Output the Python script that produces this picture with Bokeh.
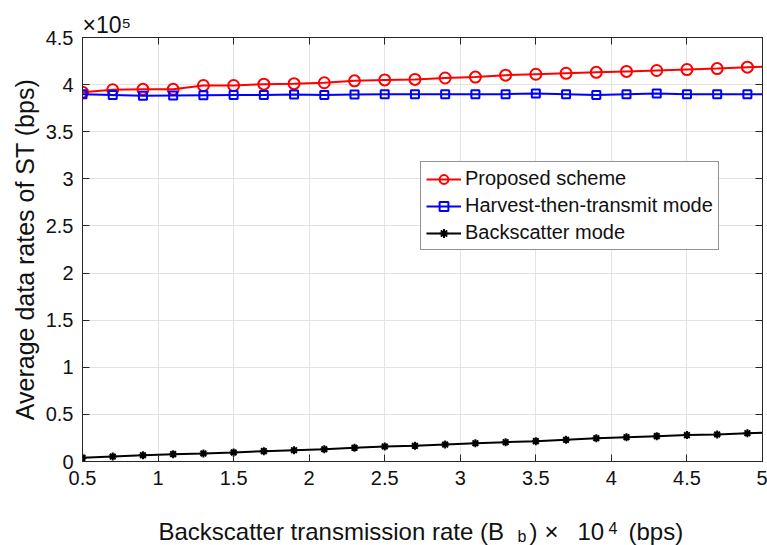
from bokeh.plotting import figure
from bokeh.layouts import column
from bokeh.models import (Range1d, FixedTicker, CustomJSTickFormatter, LinearAxis,
                          Legend, LegendItem)
from bokeh.core.properties import value
from bokeh.embed import file_html
from bokeh.resources import INLINE

# ---- data (y values in units of 10^5 bps, x in units of 10^4 bps) ----
rate = [0.5, 0.7, 0.9, 1.1, 1.3, 1.5, 1.7, 1.9, 2.1, 2.3, 2.5, 2.7,
        2.9, 3.1, 3.3, 3.5, 3.7, 3.9, 4.1, 4.3, 4.5, 4.7, 4.9, 5.0]
proposed = [3.92, 3.945, 3.95, 3.95, 3.99, 3.99, 4.005, 4.01, 4.02, 4.04, 4.05, 4.055,
            4.07, 4.08, 4.10, 4.11, 4.12, 4.13, 4.14, 4.15, 4.16, 4.17, 4.185, 4.19]
harvest = [3.899, 3.891, 3.881, 3.885, 3.888, 3.891, 3.891, 3.895, 3.891, 3.895, 3.899, 3.899,
           3.899, 3.899, 3.899, 3.906, 3.899, 3.891, 3.899, 3.906, 3.899, 3.899, 3.899, 3.899]
backscatter = [0.039, 0.053, 0.067, 0.078, 0.085, 0.096, 0.11, 0.12, 0.13, 0.145, 0.16, 0.167,
               0.18, 0.194, 0.205, 0.216, 0.23, 0.247, 0.258, 0.269, 0.28, 0.287, 0.30, 0.305]
series_names = ["Proposed scheme", "Harvest-then-transmit mode", "Backscatter mode"]
x_ticks = [0.5, 1, 1.5, 2, 2.5, 3, 3.5, 4, 4.5, 5]
y_ticks = [0, 0.5, 1, 1.5, 2, 2.5, 3, 3.5, 4, 4.5]
y_exponent = "\u00d710\u2075"

FONT = "Liberation Sans"
AX = "#262626"
TXT = "#111111"
W = 767
H_MAIN, H_LABEL = 496, 49
L, R, T, B = 82, 5, 37, 35

p = figure(width=W, height=H_MAIN, output_backend="svg", toolbar_location=None,
           x_range=Range1d(0.5, 5.0), y_range=Range1d(0.0, 4.5),
           min_border_left=L, min_border_right=R, min_border_top=T, min_border_bottom=B,
           background_fill_color="white", border_fill_color="white", title=y_exponent)
p.outline_line_color = AX
p.outline_line_width = 1
p.title.align = "left"
p.title.offset = 0
p.title.text_font = FONT
p.title.text_font_size = "23px"
p.title.text_font_style = "normal"
p.title.text_color = TXT
p.title.standoff = 0

fmt = CustomJSTickFormatter(code="return String(Math.round(tick*10)/10)")
blank = CustomJSTickFormatter(code="return ''")

def style_axis(ax, ticks, labels=True):
    ax.ticker = FixedTicker(ticks=ticks)
    ax.formatter = fmt if labels else blank
    ax.major_tick_in = 7
    ax.major_tick_out = 0
    ax.minor_tick_line_color = None
    ax.axis_line_color = AX
    ax.major_tick_line_color = AX
    ax.major_label_text_font = FONT
    ax.major_label_text_font_size = "20px" if labels else "1px"
    ax.major_label_text_color = TXT
    ax.major_label_standoff = 9 if labels else 0

style_axis(p.xaxis[0], x_ticks)
style_axis(p.yaxis[0], y_ticks)
p.yaxis[0].axis_label = "Average data rates of ST (bps)"
p.yaxis[0].axis_label_text_font = FONT
p.yaxis[0].axis_label_text_font_size = "25px"
p.yaxis[0].axis_label_text_font_style = "normal"
p.yaxis[0].axis_label_text_color = TXT
p.yaxis[0].axis_label_standoff = 4

top_ax = LinearAxis()
style_axis(top_ax, x_ticks, labels=False)
p.add_layout(top_ax, "above")
right_ax = LinearAxis()
style_axis(right_ax, y_ticks, labels=False)
p.add_layout(right_ax, "right")

p.xgrid.ticker = FixedTicker(ticks=x_ticks)
p.ygrid.ticker = FixedTicker(ticks=y_ticks)
p.xgrid.grid_line_color = "#e3e3e3"
p.ygrid.grid_line_color = "#e3e3e3"

# ---- series ----
l1 = p.line(rate, proposed, line_color="#ff0000", line_width=2)
m1 = p.scatter(rate[:-1], proposed[:-1], marker="circle", size=11, fill_color=None,
               line_color="#ff0000", line_width=2)
l2 = p.line(rate, harvest, line_color="#0000ff", line_width=2)
m2 = p.scatter(rate[:-1], harvest[:-1], marker="square", size=8, fill_color=None,
               line_color="#0000ff", line_width=2)
l3 = p.line(rate, backscatter, line_color="#000000", line_width=2)
m3 = p.scatter(rate[:-1], backscatter[:-1], marker="asterisk", size=8,
               line_color="#000000", line_width=2)

legend = Legend(items=[LegendItem(label=series_names[0], renderers=[l1, m1]),
                       LegendItem(label=series_names[1], renderers=[l2, m2]),
                       LegendItem(label=series_names[2], renderers=[l3, m3])],
                location=(338, 211), margin=0, padding=5, spacing=4,
                glyph_width=35, glyph_height=22, label_height=22, label_standoff=4,
                label_text_font=FONT, label_text_font_size="20px", label_text_color=TXT,
                border_line_color=AX, border_line_width=1, background_fill_color="white")
p.add_layout(legend)

# ---- x axis label strip: Backscatter transmission rate (B_b) x 10^4 (bps) ----
# the column layout aligns this strip's frame with the main frame (pixels L .. W-R)
q = figure(width=W, height=H_LABEL, output_backend="svg", toolbar_location=None,
           x_range=Range1d(L, W - R), y_range=Range1d(0, H_LABEL),
           x_axis_type=None, y_axis_type=None,
           min_border_left=0, min_border_right=0, min_border_top=0, min_border_bottom=0,
           background_fill_color="white", border_fill_color="white")
q.outline_line_color = None
q.xgrid.visible = False
q.ygrid.visible = False

big_parts = ["Backscatter transmission rate (B", ")", "\u00d7", "10", "(bps)"]
big_x = [158, 529, 544, 577, 628]
small_parts = ["b", "4"]
small_x = [517, 608]
small_y = [9, 18]

q.text(x=big_x, y=[14] * len(big_parts), text=big_parts, text_font=value(FONT),
       text_font_size="24px", text_color=TXT, text_align="left", text_baseline="alphabetic")
q.text(x=small_x, y=small_y, text=small_parts, text_font=value(FONT),
       text_font_size="16px", text_color=TXT, text_align="left", text_baseline="alphabetic")

layout = column(p, q, spacing=0)
open("out.html", "w").write(file_html(layout, INLINE))
